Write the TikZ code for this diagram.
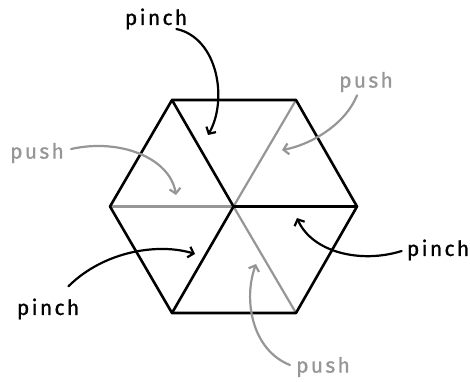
\documentclass[tikz,border=0pt]{standalone}
\usepackage{fontspec}
\setmainfont{Fira Sans}
\newfontfamily\handfont[LetterSpace=11, FakeBold=1]{Fira Sans}
\usetikzlibrary{arrows.meta}
\definecolor{pushgray}{RGB}{150,150,150}

\begin{document}
\begin{tikzpicture}[x=1pt, y=-1pt,
    hexline/.style={line width=2.6pt, line join=round, line cap=round},
    spoke/.style={line width=2.2pt, pushgray},
    lbl/.style={font=\handfont\fontsize{21}{21}\selectfont, inner sep=0pt},
    pinchlbl/.style={lbl, text=black},
    pushlbl/.style={lbl, text=pushgray},
    pincharrow/.style={line width=2.2pt, line cap=round, -{Straight Barb[length=5pt, width=11pt]}},
    pusharrow/.style={pincharrow, pushgray}]
    \useasboundingbox (0,0) rectangle (470,381);

    % Hexagon corners
    \coordinate (c) at (233.5,206.5);
    \coordinate (tl) at (172,100);
    \coordinate (tr) at (296,100);
    \coordinate (r) at (357,206.5);
    \coordinate (br) at (296,313);
    \coordinate (bl) at (172,313);
    \coordinate (l) at (110,206.5);

    % Grey spokes
    \draw[spoke] (c) -- (tr);
    \draw[spoke] (c) -- (l);
    \draw[spoke] (c) -- (br);

    % Black spokes and outline
    \draw[hexline] (tl) -- (c) -- (r);
    \draw[hexline] (c) -- (bl);
    \draw[hexline] (tl) -- (tr) -- (r) -- (br) -- (bl) -- (l) -- cycle;

    % Labels
    \node[pinchlbl] (pinchT) at (156,19) {pinch};
    \node[pushlbl] (pushTR) at (366,82) {push};
    \node[pushlbl] (pushL) at (37,153) {push};
    \node[pinchlbl] (pinchR) at (438,250) {pinch};
    \node[pinchlbl] (pinchL) at (48,309) {pinch};
    \node[pushlbl] (pushB) at (323,367) {push};

    % Arrow tips
    \coordinate (tipT) at (208,135);
    \coordinate (tipTR) at (282,150);
    \coordinate (tipL) at (176,195);
    \coordinate (tipR) at (297,218);
    \coordinate (tipLB) at (195,254);
    \coordinate (tipB) at (256,264);

    % Arrows
    \draw[pincharrow] ([xshift=-11pt, yshift=-4pt]pinchT.base east) .. controls (218,38) and (228,100) .. (tipT);
    \draw[pusharrow] ([xshift=-9pt, yshift=-3pt]pushTR.south) .. controls (345,125) and (310,145) .. (tipTR);
    \draw[pusharrow] ([xshift=7pt, yshift=4pt]pushL.east) .. controls (120,138) and (170,158) .. (tipL);
    \draw[pincharrow] ([xshift=-5pt, yshift=-1pt]pinchR.west) .. controls (360,264) and (312,252) .. (tipR);
    \draw[pincharrow] ([xshift=-11pt, yshift=12pt]pinchL.north east) .. controls (105,250) and (160,243) .. (tipLB);
    \draw[pusharrow] ([xshift=-6pt, yshift=2pt]pushB.west) .. controls (252,350) and (243,300) .. (tipB);
\end{tikzpicture}
\end{document}
